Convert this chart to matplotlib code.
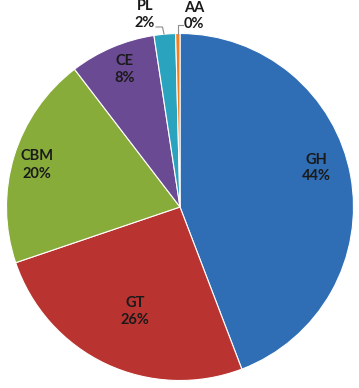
import matplotlib
matplotlib.use("Agg")
import matplotlib.pyplot as plt

# Data
categories = ["GH", "GT", "CBM", "CE", "PL", "AA"]
values = [44.2, 25.6, 19.8, 8.0, 2.0, 0.4]
colors = ["#2F6EB5", "#B93430", "#88AC3A", "#6B4A94", "#2AA3BE", "#F2801F"]

W, H = 359, 388
fig = plt.figure(figsize=(W / 100, H / 100), dpi=100)
ax = fig.add_axes([0, 0, 1, 1])

cx, cy, r = 180, H - 207, 173.5
ax.pie(values, colors=colors, startangle=90, counterclock=False,
       center=(cx, cy), radius=r,
       wedgeprops=dict(edgecolor="white", linewidth=0.8))
ax.set_xlim(0, W)
ax.set_ylim(0, H)
ax.set_aspect("equal")
ax.axis("off")

# label positions (pixel coords from top) for each category
label_pos = {"GH": (316, 168), "GT": (135, 311.5), "CBM": (37, 165),
             "CE": (125, 69.5), "PL": (145, 14.5), "AA": (194, 16)}
total = sum(values)
for cat, v in zip(categories, values):
    x, y = label_pos[cat]
    pct = f"{round(100 * v / total):.0f}%"
    ax.text(x, H - y + 8.5, cat, ha="center", va="center", fontsize=10.5,
            fontweight="bold", family="Lato", color="#1a1a1a")
    ax.text(x, H - y - 8.5, pct, ha="center", va="center", fontsize=10.5,
            fontweight="bold", family="Lato", color="#1a1a1a")

# leader lines
ax.plot([156, 162.5, 164], [H - 27, H - 27, H - 34], color="#8c8c8c", lw=0.8)
ax.plot([177.5, 177.5, 183], [H - 34, H - 25, H - 25], color="#8c8c8c", lw=0.8)

fig.savefig("out.png", dpi=100, facecolor="white")
